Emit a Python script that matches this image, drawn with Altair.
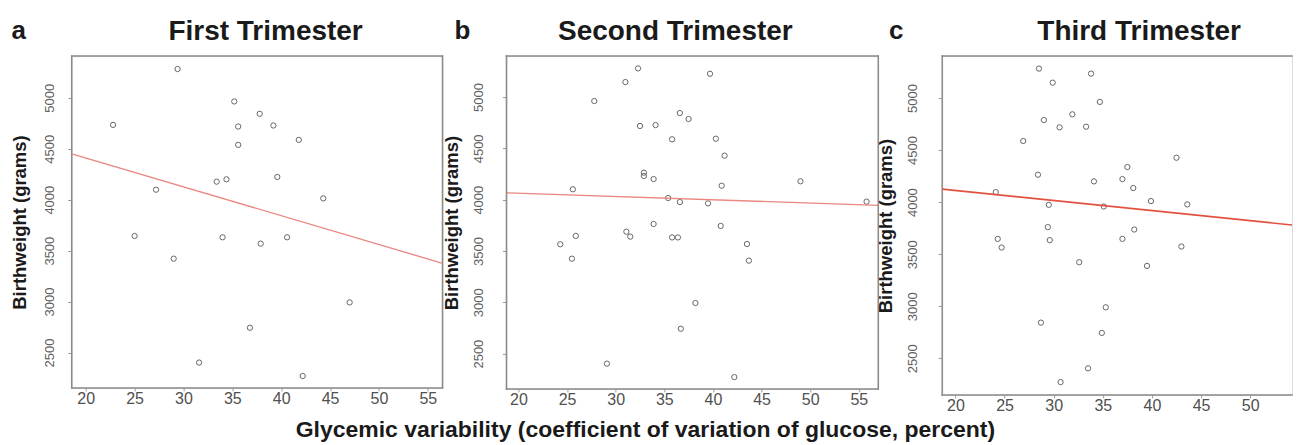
import altair as alt
import pandas as pd

# ---------------- data ----------------
letters = ["a", "b", "c"]
titles = ["First Trimester", "Second Trimester", "Third Trimester"]

t1_cv = [29.4, 22.8, 35.2, 37.8, 35.6, 39.2, 35.6, 41.8, 27.2, 33.4, 34.4, 39.6,
         44.3, 25.0, 34.0, 37.9, 40.6, 29.0, 47.0, 36.8, 31.6, 42.2]
t1_bw = [5282, 4734, 4964, 4843, 4718, 4728, 4538, 4587, 4098, 4177, 4200, 4223,
         4013, 3644, 3631, 3569, 3631, 3421, 2992, 2743, 2402, 2270]

t2_cv = [32.3, 39.7, 31.0, 27.8, 36.6, 37.5, 32.5, 34.1, 35.8, 40.3, 41.2, 32.9,
         32.9, 33.9, 25.6, 49.0, 40.9, 35.4, 36.6, 39.5, 55.8, 33.9, 40.8, 31.1,
         24.3, 25.9, 25.5, 31.5, 35.8, 36.4, 43.5, 43.7, 38.2, 36.7, 29.1, 42.2]
t2_bw = [5279, 5227, 5146, 4961, 4844, 4786, 4718, 4727, 4588, 4594, 4429, 4263,
         4231, 4201, 4101, 4179, 4136, 4016, 3977, 3964, 3981, 3763, 3744, 3688,
         3565, 3647, 3425, 3640, 3632, 3632, 3568, 3406, 2993, 2742, 2402, 2271]

t3_cv = [28.5, 33.8, 29.9, 34.7, 31.9, 29.0, 30.6, 33.3, 26.9, 42.5, 37.5, 28.4,
         34.1, 37.0, 38.1, 24.1, 39.9, 43.6, 29.5, 35.1, 29.4, 38.2, 24.3, 24.7,
         29.6, 37.0, 43.0, 32.6, 39.5, 35.3, 28.7, 34.9, 33.5, 30.7]
t3_bw = [5282, 5234, 5147, 4962, 4843, 4788, 4718, 4724, 4587, 4426, 4337, 4263,
         4199, 4221, 4135, 4096, 4010, 3978, 3974, 3958, 3760, 3737, 3647, 3564,
         3635, 3647, 3574, 3423, 3388, 2990, 2843, 2744, 2404, 2272]

# fitted regression lines (intercept, slope)
fit_intercepts = [4975, 4128, 4305]
fit_slopes = [-28.3, -3.22, -9.66]

x_ticks = [20, 25, 30, 35, 40, 45, 50, 55]
y_ticks = [2500, 3000, 3500, 4000, 4500, 5000]

x_title = "Glycemic variability (coefficient of variation of glucose, percent)"
y_title = "Birthweight (grams)"

# ---------------- layout / style ----------------
FONT = "Liberation Sans"
FRAME = "#8a8a8a"
panel_cfg = [
    dict(cv=t1_cv, bw=t1_bw, xdom=[18.57, 56.5], ydom=[2153, 5409], w=371, h=332,
         color="#ea8780", lw=1.3, lab_pad=18, ytx=-52, let_x=-53, tit_x=194,
         right_side=True),
    dict(cv=t2_cv, bw=t2_bw, xdom=[18.77, 57.0], ydom=[2156, 5399], w=372, h=333,
         color="#ea8780", lw=1.3, lab_pad=24, ytx=-55, let_x=-44, tit_x=169,
         right_side=True),
    dict(cv=t3_cv, bw=t3_bw, xdom=[18.65, 54.26], ydom=[2149, 5402], w=350, h=339,
         color="#e2513f", lw=1.6, lab_pad=26, ytx=-57, let_x=-46, tit_x=197,
         right_side=False),
]


def make_panel(i):
    c = panel_cfg[i]
    df = pd.DataFrame({"cv": c["cv"], "bw": c["bw"]})
    xs = alt.Scale(domain=c["xdom"], nice=False, zero=False)
    ys = alt.Scale(domain=c["ydom"], nice=False, zero=False)
    xt = [t for t in x_ticks if c["xdom"][0] <= t <= c["xdom"][1]]
    xenc = alt.X("cv:Q", scale=xs, axis=alt.Axis(
        values=xt, title=None, grid=False, domain=False,
        tickSize=3, tickColor="#999999", labelFontSize=16, labelColor="#505050",
        labelFont=FONT, labelPadding=0, labelFlush=False, labelOverlap=False))
    yenc = alt.Y("bw:Q", scale=ys, axis=alt.Axis(
        values=y_ticks, format="d", title=y_title, grid=False, domain=False,
        tickSize=4, tickColor="#999999", labelFontSize=13, labelColor="#606060",
        labelFont=FONT, labelAngle=270, labelAlign="center", labelBaseline="middle",
        labelPadding=c["lab_pad"], labelFlush=False, labelOverlap=False,
        titleFont=FONT, titleFontSize=18.5, titleFontWeight="bold", titleColor="#1a1a1a",
        titleX=c["ytx"], titleY=c["h"] / 2, titleAlign="center", titleBaseline="middle",
        titleAngle=270))
    pts = alt.Chart(df).mark_point(shape="circle", filled=False, size=28,
                                   strokeWidth=1, color="#666666", opacity=1).encode(x=xenc, y=yenc)

    # frame (box) built from the scale domains
    x0, x1 = c["xdom"]
    y0, y1 = c["ydom"]
    sides = {"cv": [x0, x0, x0], "cv2": [x1, x1, x0], "bw": [y1, y0, y0], "bw2": [y1, y0, y1]}
    if c["right_side"]:
        for k, v in zip(["cv", "cv2", "bw", "bw2"], [x1, x1, y0, y1]):
            sides[k].append(v)
    frame = alt.Chart(pd.DataFrame(sides)).mark_rule(
        color=FRAME, strokeWidth=1.5, strokeCap="square").encode(
        x=alt.X("cv:Q", scale=xs), x2="cv2:Q",
        y=alt.Y("bw:Q", scale=ys), y2="bw2:Q")

    line_df = pd.DataFrame({"cv": c["xdom"]})
    fit = alt.Chart(line_df).transform_calculate(
        bw=f"{fit_intercepts[i]} + ({fit_slopes[i]}) * datum.cv"
    ).mark_line(color=c["color"], strokeWidth=c["lw"], clip=True).encode(
        x=alt.X("cv:Q", scale=xs), y=alt.Y("bw:Q", scale=ys))

    lab_df = pd.DataFrame({"t": [letters[i]], "s": [titles[i]], "xt": [x_title]})
    letter = alt.Chart(lab_df).mark_text(
        font=FONT, fontSize=26, fontWeight="bold", color="#1a1a1a",
        align="center", baseline="alphabetic").encode(
        text="t:N", x=alt.value(c["let_x"]), y=alt.value(-17))
    title = alt.Chart(lab_df).mark_text(
        font=FONT, fontSize=28, fontWeight="bold", color="#1a1a1a",
        align="center", baseline="alphabetic").encode(
        text="s:N", x=alt.value(c["tit_x"]), y=alt.value(-16))
    layers = [pts, frame, fit, letter, title]
    if i == 1:
        xtitle = alt.Chart(lab_df).mark_text(
            font=FONT, fontSize=23, fontWeight="bold", color="#1a1a1a",
            align="center", baseline="alphabetic").encode(
            text="xt:N", x=alt.value(139), y=alt.value(381))
        layers.append(xtitle)
    return alt.layer(*layers).properties(width=c["w"], height=c["h"])


chart = alt.hconcat(make_panel(0), make_panel(1), make_panel(2), spacing=64,
                    bounds="flush").properties(
    padding={"left": 1.75, "top": 9, "right": 0, "bottom": 0},
).configure_view(strokeWidth=0).configure(background="white")

chart.save("out.html", embed_options={"renderer": "svg", "actions": False})
